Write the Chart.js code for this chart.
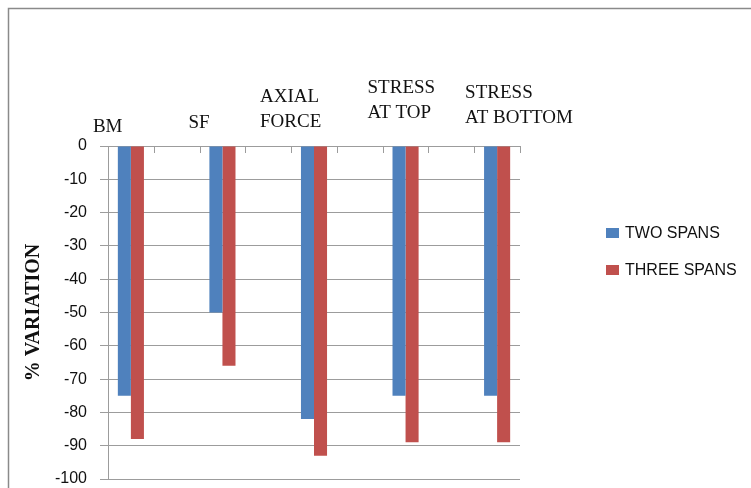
<!DOCTYPE html>
<html>
<head>
<meta charset="utf-8">
<script src="https://cdn.jsdelivr.net/npm/chart.js@4/dist/chart.umd.min.js"></script>
<style>
  html, body { margin: 0; padding: 0; background: #ffffff; }
  #wrap { width: 751px; height: 488px; }
</style>
</head>
<body>
<div id="wrap"><canvas id="c" width="751" height="488"></canvas></div>
<script>
// ---- data ----
const categories = [['BM'], ['SF'], ['AXIAL', 'FORCE'], ['STRESS', 'AT TOP'], ['STRESS', 'AT BOTTOM']];
const twoSpans   = [-75, -50, -82, -75, -75];
const threeSpans = [-88, -66, -93, -89, -89];
const seriesNames = ['TWO SPANS', 'THREE SPANS'];
const yTicks = [0, -10, -20, -30, -40, -50, -60, -70, -80, -90, -100];

// Every category sits in an even slot; odd slots are empty gaps (as in the original)
const slotLabels = [];
const slotTwo = [];
const slotThree = [];
categories.forEach((c, i) => {
  slotLabels.push(c.join(' '));
  slotTwo.push(twoSpans[i]);
  slotThree.push(threeSpans[i]);
  if (i < categories.length - 1) { slotLabels.push(''); slotTwo.push(null); slotThree.push(null); }
});

const GRID = '#9c9c9c';
const SANS = '"Liberation Sans", Arial, sans-serif';
const SERIF = '"Liberation Serif", "Times New Roman", serif';

const decorPlugin = {
  id: 'decor',
  beforeDraw(chart) {
    const ctx = chart.ctx;
    ctx.save();
    ctx.fillStyle = '#ffffff';
    ctx.fillRect(0, 0, chart.width, chart.height);
    // outer frame (top + left)
    ctx.strokeStyle = '#8a8a8a';
    ctx.lineWidth = 1.5;
    ctx.beginPath();
    ctx.moveTo(8.5, chart.height);
    ctx.lineTo(8.5, 8.5);
    ctx.lineTo(chart.width, 8.5);
    ctx.stroke();
    ctx.restore();
  },
  afterDraw(chart, args, opts) {
    const ctx = chart.ctx;
    const xs = chart.scales.x;
    const area = chart.chartArea;
    const top = area.top;
    ctx.save();
    // small category tick marks hanging below the zero line
    const n = xs.ticks.length;
    const slot = (xs.right - xs.left) / n;
    ctx.strokeStyle = GRID;
    ctx.lineWidth = 1;
    for (let i = 1; i <= n; i++) {
      const x = Math.round(xs.left + i * slot) + 0.5;
      ctx.beginPath();
      ctx.moveTo(x, top);
      ctx.lineTo(x, top + 7);
      ctx.stroke();
    }
    // category labels above the zero line
    ctx.fillStyle = '#111111';
    ctx.font = '19px ' + SERIF;
    ctx.textAlign = 'left';
    ctx.textBaseline = 'alphabetic';
    categories.forEach((lines, i) => {
      const cx = xs.getPixelForValue(i * 2);
      const o = opts.offsets[i];
      const x = cx + o[0];
      const lastBase = top + o[1];
      lines.forEach((t, k) => {
        const y = lastBase - (lines.length - 1 - k) * opts.lineGap;
        ctx.fillText(t, x, y);
      });
    });
    // legend on the right
    ctx.font = '16px ' + SANS;
    ctx.textBaseline = 'middle';
    const lx = area.right + opts.legendDx;
    chart.data.datasets.forEach((ds, i) => {
      const cy = top + opts.legendTop + i * opts.legendGap;
      ctx.fillStyle = ds.backgroundColor;
      ctx.fillRect(lx, cy - 5, 13, 10);
      ctx.fillStyle = '#111111';
      ctx.fillText(ds.label, lx + 19, cy + 1);
    });
    ctx.restore();
  }
};

new Chart(document.getElementById('c'), {
  type: 'bar',
  data: {
    labels: slotLabels,
    datasets: [
      { label: seriesNames[0], data: slotTwo, backgroundColor: '#4F81BD', borderWidth: 0 },
      { label: seriesNames[1], data: slotThree, backgroundColor: '#C0504D', borderWidth: 0 }
    ]
  },
  options: {
    responsive: false,
    animation: false,
    devicePixelRatio: 1,
    layout: { padding: { left: 18, top: 10, right: 231, bottom: 9 } },
    datasets: { bar: { barPercentage: 1, categoryPercentage: 0.57 } },
    plugins: {
      tooltip: { enabled: false },
      legend: { display: false },
      decor: {
        lineGap: 25,
        offsets: [[-38, -14], [-34, -18], [-54, -19], [-38, -28], [-32, -23]],
        legendDx: 86,
        legendTop: 87,
        legendGap: 37
      }
    },
    scales: {
      x: {
        position: 'top',
        grid: { display: false },
        border: { display: true, color: GRID, width: 1 },
        ticks: { display: false },
        afterFit(s) { s.height = 136; }
      },
      y: {
        min: -100,
        max: 0,
        afterBuildTicks(s) { s.ticks = yTicks.map(v => ({ value: v })); },
        grid: { color: GRID, lineWidth: 1, tickLength: 8 },
        border: { display: true, color: GRID, width: 1 },
        ticks: {
          padding: 13,
          color: '#111111',
          font: { family: SANS, size: 16 }
        },
        title: {
          display: true,
          text: '% VARIATION',
          color: '#111111',
          padding: { top: 4, bottom: 4 },
          font: { family: SERIF, size: 20, weight: 'bold' }
        },
        afterFit(s) { s.width = 90; s.paddingTop = 0; s.paddingBottom = 0; }
      }
    }
  },
  plugins: [decorPlugin]
});
</script>
</body>
</html>
